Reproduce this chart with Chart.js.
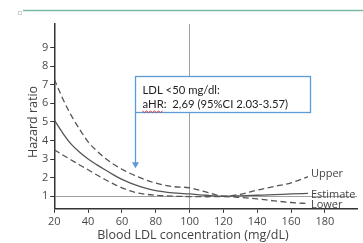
<!DOCTYPE html>
<html>
<head>
<meta charset="utf-8">
<script src="https://cdn.jsdelivr.net/npm/chart.js@4.4.0/dist/chart.umd.min.js"></script>
<style>
    html, body { margin: 0; padding: 0; background: #fff; }
</style>
</head>
<body>
<canvas id="graficoHR" width="363" height="243"></canvas>
<script>
// dados
const ldl = [20, 25, 30, 35, 40, 45, 50, 55, 60, 65, 70, 80, 90, 100, 110, 120, 130, 140, 150, 160, 170];
const estimativa = [5.1, 4.4, 3.8, 3.36, 3.0, 2.7, 2.42, 2.15, 1.9, 1.7, 1.54, 1.3, 1.18, 1.12, 1.05, 1.0, 1.02, 1.05, 1.08, 1.12, 1.15];
const superior = [7.3, 6.25, 5.35, 4.6, 3.92, 3.45, 3.05, 2.72, 2.45, 2.22, 2.02, 1.7, 1.52, 1.45, 1.22, 1.0, 1.1, 1.33, 1.52, 1.72, 2.05];
const inferior = [3.5, 3.22, 2.95, 2.68, 2.42, 2.15, 1.9, 1.66, 1.45, 1.28, 1.16, 1.05, 1.0, 0.98, 0.97, 0.98, 0.93, 0.85, 0.75, 0.66, 0.6];
const ticksX = [20, 40, 60, 80, 100, 120, 140, 160, 180];
const ticksY = [1, 2, 3, 4, 5, 6, 7, 8, 9];
const rotulos = ['Estimate', 'Upper', 'Lower'];
const textoCaixa = ['LDL <50 mg/dl:', 'aHR:  2,69 (95%CI 2.03-3.57)'];
const tituloX = 'Blood LDL concentration (mg/dL)';
const tituloY = 'Hazard ratio';

// caixa de anotação e seta (coordenadas de dados)
const caixa = { x0: 67.8, x1: 171, yTopo: 7.47, yBase: 5.55, ySeta: 2.5 };

const corLinha = '#555';
const azul = '#5b9bd5';

function pontos(valores) {
    return ldl.map((x, i) => ({ x: x, y: valores[i] }));
}

const decoracao = {
    id: 'decoracao',
    beforeDraw(chart) {
        const c = chart.ctx;
        c.save();
        c.strokeStyle = '#7cb9a5';
        c.lineWidth = 1.5;
        c.beginPath();
        c.moveTo(23, 10.5);
        c.lineTo(363, 10.5);
        c.stroke();
        c.strokeStyle = '#d0d0d0';
        c.lineWidth = 1;
        c.strokeRect(18.5, 11.5, 3, 3);
        c.restore();
    },
    afterDraw(chart) {
        const c = chart.ctx;
        const sx = chart.scales.x, sy = chart.scales.y;
        c.save();

        // títulos dos eixos
        c.fillStyle = '#444';
        c.font = '12.5px "Open Sans"';
        c.textAlign = 'center';
        c.textBaseline = 'middle';
        c.fillText(tituloX, 193, 235);
        c.save();
        c.translate(33, 122);
        c.rotate(-Math.PI / 2);
        c.fillText(tituloY, 0, 0);
        c.restore();

        // rótulos das curvas
        c.font = '11px "Open Sans"';
        c.textAlign = 'left';
        const desloc = { Estimate: 1, Upper: -3, Lower: 1 };
        chart.data.datasets.forEach((ds) => {
            if (!rotulos.includes(ds.label)) return;
            const ult = ds.data[ds.data.length - 1];
            c.fillText(ds.label, sx.getPixelForValue(ult.x) + 3, sy.getPixelForValue(ult.y) + desloc[ds.label]);
        });

        // caixa
        const x0 = Math.round(sx.getPixelForValue(caixa.x0)) + 0.5;
        const x1 = Math.round(sx.getPixelForValue(caixa.x1)) + 0.5;
        const y0 = Math.round(sy.getPixelForValue(caixa.yTopo)) + 0.5;
        const y1 = Math.round(sy.getPixelForValue(caixa.yBase)) + 0.5;
        const ys = sy.getPixelForValue(caixa.ySeta);
        c.fillStyle = '#fff';
        c.fillRect(x0, y0, x1 - x0, y1 - y0);
        c.strokeStyle = azul;
        c.lineWidth = 1.3;
        c.strokeRect(x0, y0, x1 - x0, y1 - y0);

        // seta
        c.beginPath();
        c.moveTo(x0, y1);
        c.lineTo(x0, ys - 5);
        c.stroke();
        c.fillStyle = azul;
        c.beginPath();
        c.moveTo(x0 - 3.5, ys - 6);
        c.lineTo(x0 + 3.5, ys - 6);
        c.lineTo(x0, ys);
        c.closePath();
        c.fill();

        // texto da caixa
        c.fillStyle = '#222';
        c.font = '11.3px Lato';
        c.textBaseline = 'middle';
        c.fillText(textoCaixa[0], x0 + 7, y0 + 13.5);
        c.fillText(textoCaixa[1], x0 + 7, y0 + 27.5);

        // sublinhado ondulado
        const larg = c.measureText('aHR').width;
        c.strokeStyle = '#d43c3c';
        c.lineWidth = 1;
        c.beginPath();
        const yb = y0 + 34.5;
        for (let px = 0; px <= larg; px += 2) {
            const xx = x0 + 7 + px;
            const yy = yb + ((px / 2) % 2 === 0 ? 0 : 1.5);
            if (px === 0) c.moveTo(xx, yy); else c.lineTo(xx, yy);
        }
        c.stroke();
        c.restore();
    }
};

const ctx = document.getElementById('graficoHR').getContext('2d');

new Chart(ctx, {
    type: 'line',
    data: {
        datasets: [
            { label: 'Upper', data: pontos(superior), borderColor: corLinha, borderWidth: 1.3, borderDash: [6, 3.5], tension: 0.4, cubicInterpolationMode: 'monotone' },
            { label: 'Estimate', data: pontos(estimativa), borderColor: corLinha, borderWidth: 1.3, tension: 0.4, cubicInterpolationMode: 'monotone' },
            { label: 'Lower', data: pontos(inferior), borderColor: corLinha, borderWidth: 1.3, borderDash: [6, 3.5], tension: 0.4, cubicInterpolationMode: 'monotone' }
        ]
    },
    options: {
        responsive: false,
        animation: false,
        layout: { padding: { top: 24, right: 6, left: 40, bottom: 13 } },
        elements: { point: { radius: 0 } },
        plugins: { legend: { display: false }, tooltip: { enabled: false } },
        scales: {
            x: {
                type: 'linear',
                min: 20,
                max: 199,
                afterBuildTicks: (s) => { s.ticks = ticksX.map(v => ({ value: v })); },
                grid: {
                    color: (c) => (c.tick && c.tick.value === 100 ? '#a0a0a0' : 'transparent'),
                    tickColor: '#333',
                    tickLength: 4,
                    lineWidth: 1
                },
                border: { color: '#333', width: 1.5 },
                ticks: { color: '#4a4a4a', font: { family: 'Open Sans', size: 11 }, padding: 2, maxRotation: 0 }
            },
            y: {
                min: 0.32,
                max: 10.27,
                afterBuildTicks: (s) => { s.ticks = ticksY.map(v => ({ value: v })); },
                grid: {
                    color: (c) => (c.tick && c.tick.value === 1 ? '#a0a0a0' : 'transparent'),
                    tickColor: '#333',
                    tickLength: 4,
                    lineWidth: 1
                },
                border: { color: '#333', width: 1.5 },
                ticks: { color: '#4a4a4a', font: { family: 'Open Sans', size: 11 }, padding: 2 }
            }
        }
    },
    plugins: [decoracao]
});
</script>
</body>
</html>
